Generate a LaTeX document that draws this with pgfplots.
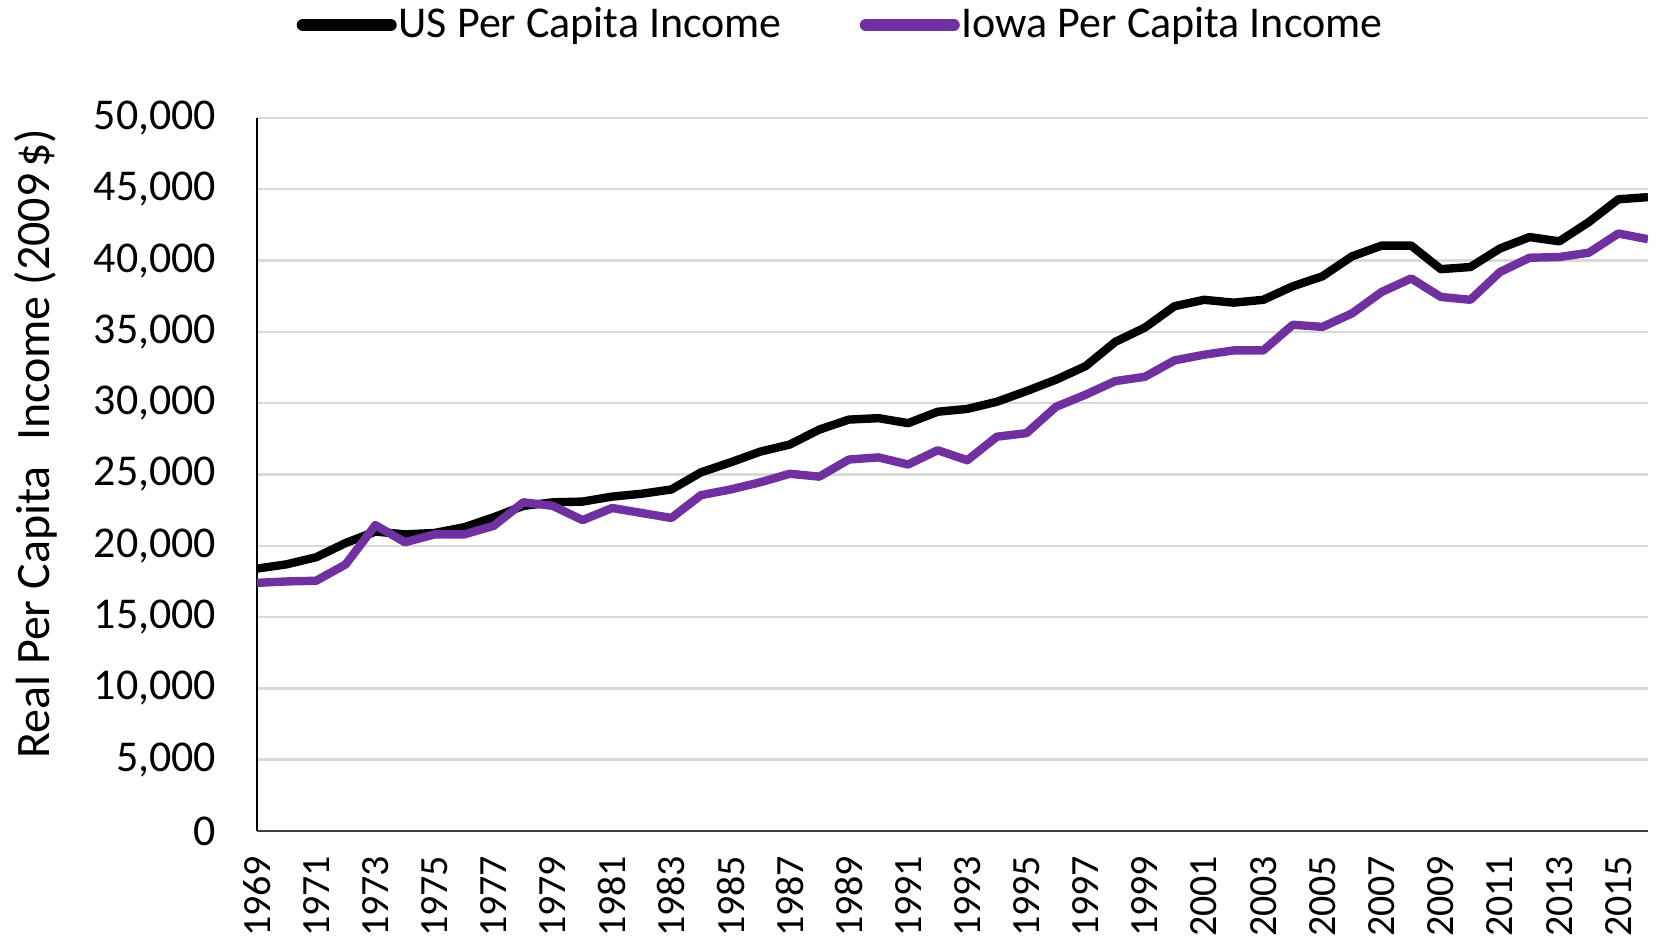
\documentclass[border=0pt]{standalone}
\usepackage{fontspec}
\setmainfont{Carlito}
\usepackage{pgfplots}
\pgfplotsset{compat=1.18}
\definecolor{iowapurple}{HTML}{7030A0}
\definecolor{gridgray}{HTML}{D9D9D9}
\definecolor{axgray}{HTML}{404040}
\begin{document}
\begin{tikzpicture}
\begin{axis}[
  at={(0pt,0pt)}, anchor=south west,
  scale only axis,
  width=347.75pt, height=178.25pt,
  xmin=1969, xmax=2016,
  ymin=0, ymax=50000,
  axis x line=bottom, axis y line=left,
  axis line style={-},
  x axis line style={color=axgray, line width=0.6pt},
  y axis line style={color=black, line width=0.45pt},
  xtick={1969,1971,...,2015},
  ytick={0,5000,...,50000},
  major tick length=0pt,
  ymajorgrids,
  grid style={gridgray, line width=0.6pt},
  scaled y ticks=false,
  /pgf/number format/assume math mode=true,
  y tick label style={/pgf/number format/.cd,1000 sep={,},/tikz/.cd, font=\fontsize{11}{13}\selectfont, inner sep=0pt, xshift=-10pt},
  x tick label style={/pgf/number format/.cd,1000 sep={},/tikz/.cd, font=\fontsize{10}{12}\selectfont, rotate=90, anchor=east, inner sep=0pt},
  xticklabel shift=6pt,
  ylabel={Real Per Capita\hspace{0.3em} Income (2009\hspace{0.12em}\$)},
  ylabel style={at={(axis description cs:-0.1589,0.543)}, anchor=center, font=\fontsize{12}{14}\selectfont},
  legend columns=2,
  legend style={at={(axis description cs:0.028,1.1304)}, anchor=west, draw=none, fill=none, inner sep=0pt,
    font=\fontsize{11}{13}\selectfont,
    nodes={inner sep=0.5pt},
    /tikz/every even column/.append style={column sep=19pt}},
  legend image code/.code={\draw[#1, line width=3pt, line cap=round] (0pt,0pt) -- (22pt,0pt);},
  line join=round,
]
\addplot[black, line width=2.1pt] coordinates {
(1969,18400) (1970,18700) (1971,19200) (1972,20200) (1973,21000) (1974,20800)
(1975,20900) (1976,21300) (1977,22000) (1978,22800) (1979,23050) (1980,23100)
(1981,23450) (1982,23650) (1983,23950) (1984,25150) (1985,25850) (1986,26600)
(1987,27100) (1988,28150) (1989,28850) (1990,28950) (1991,28600) (1992,29400)
(1993,29600) (1994,30100) (1995,30850) (1996,31650) (1997,32600) (1998,34300)
(1999,35300) (2000,36800) (2001,37250) (2002,37050) (2003,37250) (2004,38200)
(2005,38900) (2006,40300) (2007,41050) (2008,41050) (2009,39400) (2010,39550)
(2011,40850) (2012,41650) (2013,41350) (2014,42700) (2015,44300) (2016,44450)
};
\addlegendentry{US Per Capita Income}
\addplot[iowapurple, line width=2.1pt] coordinates {
(1969,17400) (1970,17500) (1971,17550) (1972,18700) (1973,21450) (1974,20250)
(1975,20800) (1976,20800) (1977,21400) (1978,23050) (1979,22800) (1980,21800)
(1981,22650) (1982,22300) (1983,21950) (1984,23550) (1985,23950) (1986,24450)
(1987,25050) (1988,24850) (1989,26050) (1990,26200) (1991,25700) (1992,26700)
(1993,26000) (1994,27650) (1995,27900) (1996,29750) (1997,30600) (1998,31550)
(1999,31850) (2000,33000) (2001,33400) (2002,33700) (2003,33700) (2004,35500)
(2005,35350) (2006,36300) (2007,37800) (2008,38750) (2009,37450) (2010,37250)
(2011,39200) (2012,40200) (2013,40250) (2014,40550) (2015,41900) (2016,41500)
};
\addlegendentry{Iowa Per Capita Income}
\end{axis}
\pgfresetboundingbox
\path[use as bounding box] (-64.25pt,-29.75pt) rectangle (350.25pt,207.75pt);
\end{tikzpicture}
\end{document}
